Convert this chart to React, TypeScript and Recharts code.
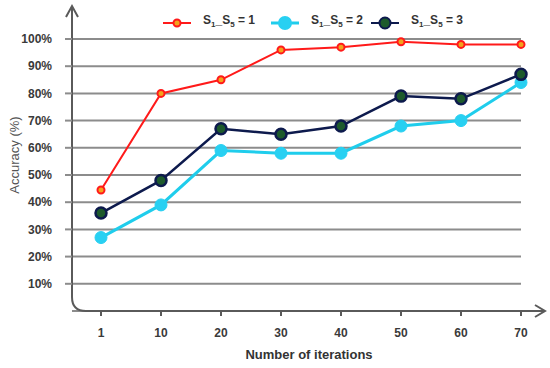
import React from "react";
import {
  CartesianGrid,
  Line,
  LineChart,
  XAxis,
  YAxis,
  usePlotArea,
} from "recharts";

const iterations = ["1", "10", "20", "30", "40", "50", "60", "70"];
const accS1 = [44.5, 80, 85, 96, 97, 99, 98, 98];
const accS2 = [27, 39, 59, 58, 58, 68, 70, 84];
const accS3 = [36, 48, 67, 65, 68, 79, 78, 87];
const yTicks = [10, 20, 30, 40, 50, 60, 70, 80, 90, 100];

const data = iterations.map((iter, i) => ({
  iter,
  s1: accS1[i],
  s2: accS2[i],
  s3: accS3[i],
}));

const FONT = "'Liberation Sans', Arial, sans-serif";

const legendItems = [
  { key: "s1", value: "1", color: "#ff1a1a", fill: "#f3a21c", r: 3.5 },
  { key: "s2", value: "2", color: "#1fcdec", fill: "#28d0f2", r: 6 },
  { key: "s3", value: "3", color: "#0d1a4d", fill: "#1d5a2c", r: 5.5 },
];

function AxisFrame() {
  const plot = usePlotArea ? usePlotArea() : null;
  if (!plot) return null;
  const left = plot.x;
  const bottom = plot.y + plot.height;
  const r = 14;
  return (
    <g fill="none" stroke="#5a5a5a" strokeWidth={2}>
      <path
        d={`M ${left} 6 L ${left} ${bottom - r} Q ${left} ${bottom} ${left + r} ${bottom} L 545 ${bottom}`}
      />
      <path d={`M ${left - 6} 17 L ${left} 6 L ${left + 6} 17`} />
      <path d={`M 535 ${bottom - 6} L 545 ${bottom} L 535 ${bottom + 6}`} />
    </g>
  );
}

function ChartLegend() {
  return (
    <div
      style={{
        position: "absolute",
        top: 12,
        left: 163,
        display: "flex",
        alignItems: "center",
        fontFamily: FONT,
        lineHeight: "16px",
      }}
    >
      {legendItems.map((item, i) => (
        <div
          key={item.key}
          style={{
            display: "flex",
            alignItems: "center",
            marginRight: i === 0 ? 16 : i === 1 ? 8 : 0,
          }}
        >
          <svg width={28} height={14} style={{ marginRight: 12 }}>
            <line x1={0} y1={7} x2={28} y2={7} stroke={item.color} strokeWidth={item.key === "s2" ? 3 : 2} />
            <circle
              cx={14}
              cy={7}
              r={item.r}
              fill={item.fill}
              stroke={item.key === "s2" ? item.fill : item.color}
              strokeWidth={2}
            />
          </svg>
          <span style={{ fontSize: 12, fontWeight: 700, color: "#333" }}>
            S<sub style={{ fontSize: 8 }}>1</sub>_S<sub style={{ fontSize: 8 }}>5</sub> = {item.value}
          </span>
        </div>
      ))}
    </div>
  );
}

export default function App() {
  return (
    <div style={{ position: "absolute", left: 0, top: 0, width: 550, height: 368, background: "#fff" }}>
      <LineChart
        width={550}
        height={368}
        data={data}
        margin={{ top: 39, right: 29, bottom: 0, left: 0 }}
      >
        <CartesianGrid
          horizontal
          vertical={false}
          stroke="#8c8c8c"
          strokeWidth={2}
        />
        <XAxis
          dataKey="iter"
          type="category"
          height={57}
          padding={{ left: 29, right: 0 }}
          axisLine={false}
          tickSize={5}
          tickLine={{ stroke: "#5a5a5a", strokeWidth: 2 }}
          tickMargin={12}
          tick={{ fontSize: 12, fontWeight: 700, fill: "#3a3a3a", fontFamily: FONT }}
          label={{
            content: () => (
              <text
                x={309}
                y={359}
                textAnchor="middle"
                fontSize={13}
                fontWeight={700}
                fill="#333"
                fontFamily={FONT}
              >
                Number of iterations
              </text>
            ),
          }}
        />
        <YAxis
          type="number"
          domain={[0, 100]}
          ticks={yTicks}
          width={72}
          axisLine={false}
          tickSize={7}
          tickLine={{ stroke: "#8c8c8c", strokeWidth: 2 }}
          tickMargin={13}
          tickFormatter={(v: number) => `${v}%`}
          tick={{ fontSize: 12, fontWeight: 700, fill: "#3a3a3a", fontFamily: FONT }}
          label={{
            content: () => (
              <text
                x={14}
                y={155}
                textAnchor="middle"
                fontSize={13}
                fill="#555"
                fontFamily={FONT}
                transform="rotate(-90 14 155)"
                dominantBaseline="central"
              >
                Accuracy (%)
              </text>
            ),
          }}
        />
        <Line
          dataKey="s1"
          stroke="#ff1a1a"
          strokeWidth={2}
          dot={{ r: 3.5, fill: "#f3a21c", stroke: "#ff1a1a", strokeWidth: 2 }}
          isAnimationActive={false}
        />
        <Line
          dataKey="s2"
          stroke="#1fcdec"
          strokeWidth={3}
          dot={{ r: 6, fill: "#28d0f2", stroke: "#28d0f2", strokeWidth: 1 }}
          isAnimationActive={false}
        />
        <Line
          dataKey="s3"
          stroke="#0d1a4d"
          strokeWidth={2.5}
          dot={{ r: 5.5, fill: "#1d5a2c", stroke: "#0d1a4d", strokeWidth: 2.5 }}
          isAnimationActive={false}
        />
        <AxisFrame />
      </LineChart>
      <ChartLegend />
    </div>
  );
}
